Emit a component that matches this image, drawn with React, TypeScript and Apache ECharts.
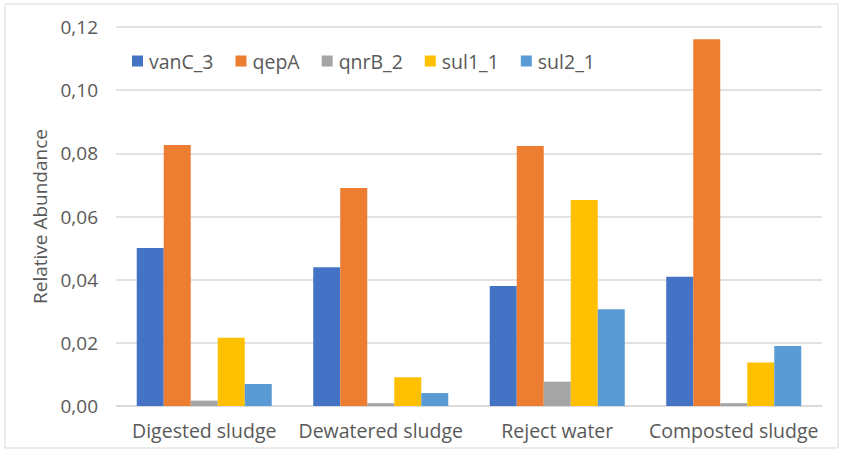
import React, { useEffect, useRef } from "react";
import * as echarts from "echarts";

const categories = ["Digested sludge", "Dewatered sludge", "Reject water", "Composted sludge"];
const seriesNames = ["vanC_3", "qepA", "qnrB_2", "sul1_1", "sul2_1"];
const vanC_3 = [0.05, 0.0439, 0.038, 0.0409];
const qepA = [0.0826, 0.069, 0.0823, 0.1161];
const qnrB_2 = [0.0017, 0.0009, 0.0077, 0.0009];
const sul1_1 = [0.0216, 0.0091, 0.0652, 0.0138];
const sul2_1 = [0.007, 0.0041, 0.0306, 0.019];
const colors = ["#4472C4", "#ED7D31", "#A5A5A5", "#FFC000", "#5B9BD5"];

export default function App() {
  const ref = useRef<HTMLDivElement>(null);
  useEffect(() => {
    if (!ref.current) return;
    const chart = echarts.init(ref.current, undefined, { renderer: "svg" });
    const data = [vanC_3, qepA, qnrB_2, sul1_1, sul2_1];
    const font = "'Open Sans', sans-serif";
    chart.setOption({
      animation: false,
      textStyle: { fontFamily: font },
      graphic: [
        {
          type: "rect",
          shape: { x: 5, y: 4, width: 833, height: 444 },
          style: { fill: "none", stroke: "#d9d9d9", lineWidth: 1 },
          silent: true,
        },
      ],
      legend: {
        left: 127,
        top: 46,
        itemWidth: 11,
        itemHeight: 11,
        itemGap: 22,
        icon: "rect",
        textStyle: { color: "#595959", fontSize: 19.5, fontFamily: font, padding: [0, 0, 0, 1] },
        data: seriesNames,
      },
      grid: { left: 116, right: 22, top: 27, bottom: 47, containLabel: false },
      xAxis: {
        type: "category",
        data: categories,
        axisLine: { show: true, lineStyle: { color: "#d9d9d9", width: 1.5 } },
        axisTick: { show: false },
        axisLabel: { color: "#595959", fontSize: 19.5, margin: 14, interval: 0, fontFamily: font },
      },
      yAxis: {
        type: "value",
        min: 0,
        max: 0.12,
        interval: 0.02,
        name: "Relative Abundance",
        nameLocation: "middle",
        nameGap: 67,
        nameTextStyle: { color: "#595959", fontSize: 19, fontFamily: font },
        axisLine: { show: false },
        axisTick: { show: false },
        splitLine: { lineStyle: { color: "#d9d9d9", width: 1.5 } },
        axisLabel: {
          color: "#595959",
          fontSize: 19,
          margin: 18,
          fontFamily: font,
          formatter: (v: number) => v.toFixed(2).replace(".", ","),
        },
      },
      series: seriesNames.map((name, i) => ({
        name,
        type: "bar",
        data: data[i],
        itemStyle: { color: colors[i] },
        barGap: "0%",
        barCategoryGap: "23.5%",
      })),
    });
    return () => chart.dispose();
  }, []);
  return (
    <div
      ref={ref}
      style={{ position: "fixed", left: 0, top: 0, width: 844, height: 453, background: "#fff" }}
    />
  );
}
